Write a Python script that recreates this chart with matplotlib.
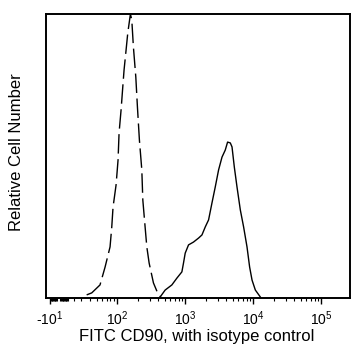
import numpy as np
import matplotlib
matplotlib.use('Agg')
import matplotlib.pyplot as plt
from matplotlib.ticker import FixedLocator, NullFormatter

# isotype control (dashed), fluorescence vs relative count
iso_x = [35.8, 42.5, 56.2, 66.7, 78.9, 83.6, 87.3, 96.7, 103.4, 107, 114.5,
         121.3, 126.7, 135.6, 143.6, 157, 164.5, 173.7, 188.4, 199, 212.8,
         230.8, 238.8, 258, 273.3, 295.6, 342, 404.8, 439.3]
iso_y = [1.1, 1.8, 4.6, 10.9, 18.0, 25.0, 32.0, 39.8, 48.6, 58.1, 66.2,
         74.3, 80.3, 87.3, 93.3, 100, 97.9, 88.4, 77.8, 67.3, 55.6,
         45.1, 34.5, 25.0, 18.0, 12.3, 5.3, 1.1, 0.35]

# CD90 stained (solid)
cd90_x = [428.9, 508, 637, 755, 894, 944, 1000, 1119, 1324, 1570, 1761,
          1968, 2203, 2472, 2761, 3090, 3467, 3873, 4188, 4592, 4864,
          5259, 5757, 6442, 7200, 8072, 8822, 9572, 10700, 12670]
cd90_y = [0.35, 2.8, 4.6, 7.0, 9.2, 12.3, 15.8, 18.7, 19.7, 21.1, 22.2,
          25.0, 27.5, 33.5, 39.1, 45.1, 49.6, 52.1, 54.9, 54.6, 53.2,
          46.1, 39.1, 31.0, 25.0, 18.0, 10.9, 6.3, 2.8, 0.35]

tick_vals = [-10, 100, 1000, 10000, 100000]
tick_labels = ['-$10^{1}$', '$10^{2}$', '$10^{3}$', '$10^{4}$', '$10^{5}$']

plt.rcParams['font.family'] = ['Liberation Sans', 'DejaVu Sans']
plt.rcParams['mathtext.fontset'] = 'custom'
plt.rcParams['mathtext.rm'] = 'Liberation Sans'
plt.rcParams['mathtext.it'] = 'Liberation Sans'

fig = plt.figure(figsize=(3.6, 3.6), dpi=100)
ax = fig.add_axes([46 / 360, 62 / 360, 304 / 360, 284 / 360])

ax.plot(iso_x, iso_y, color='black', lw=1.0, dashes=(14, 4))
ax.plot(cd90_x, cd90_y, color='black', lw=1.0)

ax.set_xscale('symlog', linthresh=30, linscale=0.312, base=10)
ax.set_xlim(-15, 262144)
ax.set_ylim(0, 100)

ax.xaxis.set_major_locator(FixedLocator(tick_vals))
ax.set_xticklabels(tick_labels, fontsize=10)
minor = list(range(-10, 0)) + list(range(3, 14))
for k in range(1, 5):
    minor += [m * 10 ** k for m in range(2, 10)]
ax.xaxis.set_minor_locator(FixedLocator(minor))
ax.xaxis.set_minor_formatter(NullFormatter())
ax.tick_params(axis='x', which='major', direction='out', length=4, width=1, pad=4)
ax.tick_params(axis='x', which='minor', direction='out', length=2.2, width=0.8)
ax.set_yticks([])

for s in ax.spines.values():
    s.set_linewidth(1.4)

fig.text(197 / 360, 1 - 337 / 360, 'FITC CD90, with isotype control',
         ha='center', va='center', fontsize=12)
fig.text(17 / 360, 1 - 152 / 360, 'Relative Cell Number', rotation=90,
         ha='center', va='center', fontsize=12)

fig.savefig('out.png', dpi=100)
